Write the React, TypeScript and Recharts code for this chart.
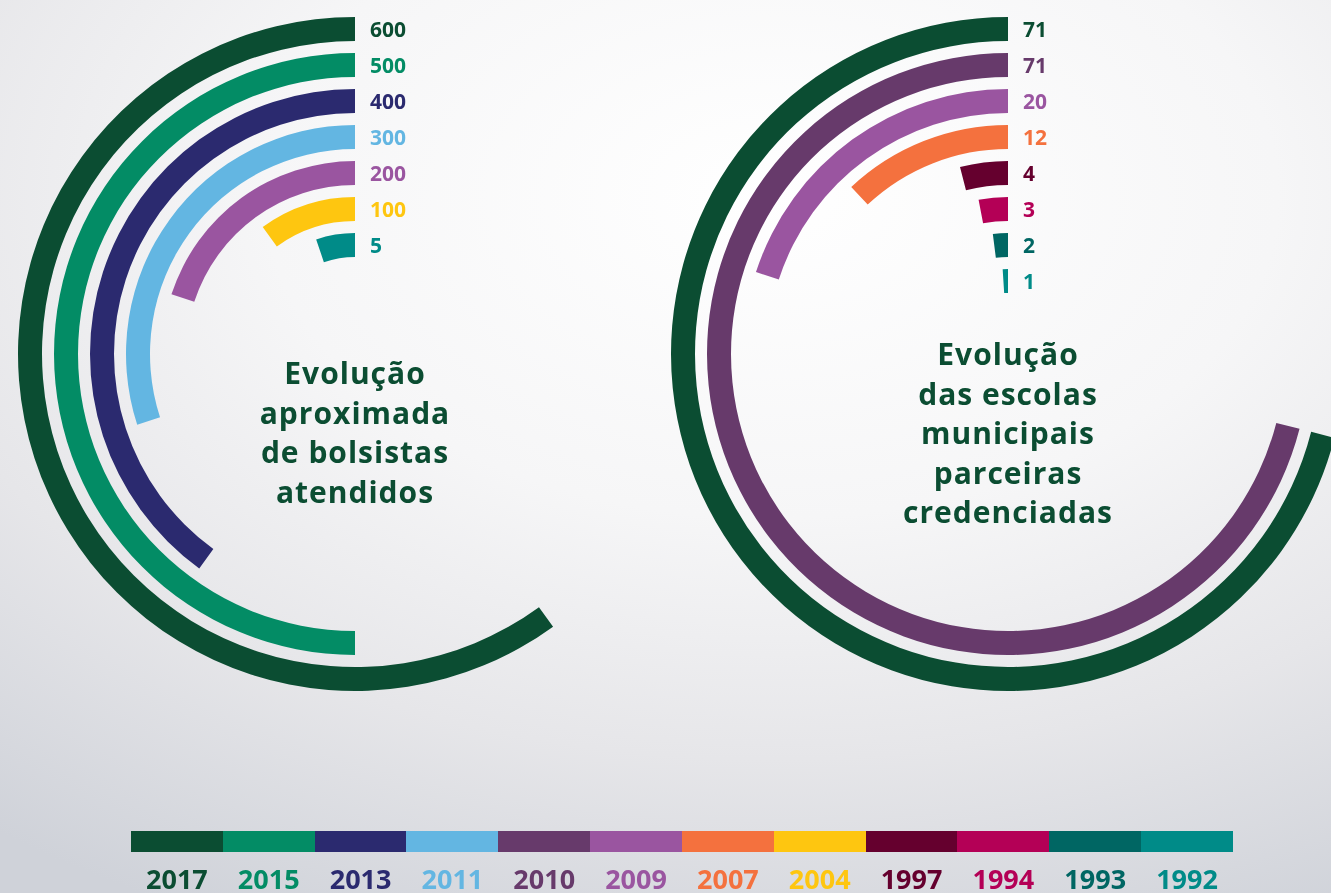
import { RadialBarChart, RadialBar, PolarAngleAxis, PolarRadiusAxis, Cell, LabelList } from "recharts";

// legenda (ano -> cor)
const anos = ["2017", "2015", "2013", "2011", "2010", "2009", "2007", "2004", "1997", "1994", "1993", "1992"];
const cores = [
  "#0b4d32", "#038c65", "#2b2a6f", "#63b6e2", "#673a6b", "#9a55a0",
  "#f4713e", "#fec610", "#65002e", "#b40056", "#006663", "#008b88",
];

// bolsistas, de dentro para fora
const bolsistasAnos = ["1992", "2004", "2009", "2011", "2013", "2015", "2017"];
const bolsistasValores = [5, 100, 200, 300, 400, 500, 600];
// na arte o arco do "5" foi desenhado maior do que a escala
const bolsistasArco = [52, 100, 200, 300, 400, 500, 600];

// escolas parceiras, de dentro para fora
const escolasAnos = ["1992", "1993", "1994", "1997", "2007", "2009", "2010", "2017"];
const escolasValores = [1, 2, 3, 4, 12, 20, 71, 71];

const FONTE = "'Open Sans', 'Noto Sans', sans-serif";
const VERDE = "#0b4d32";

const corDoAno = (ano: string) => cores[anos.indexOf(ano)];

type Item = { ano: string; arco: number; rotulo: number };

function Anel({ dados, max, inner, left, cx }: { dados: Item[]; max: number; inner: number; left: number; cx: number }) {
  const rotulo = (props: any) => {
    const vb = props.viewBox ?? {};
    const r = (vb.innerRadius + vb.outerRadius) / 2;
    const d = dados[props.index];
    return (
      <text
        x={vb.cx + 15}
        y={vb.cy - r}
        fill={corDoAno(d.ano)}
        fontSize={21}
        fontWeight={700}
        fontFamily={FONTE}
        dominantBaseline="central"
      >
        {props.value}
      </text>
    );
  };

  return (
    <div style={{ position: "absolute", left, top: 0 }}>
      <RadialBarChart
        width={720}
        height={720}
        cx={cx}
        cy={354}
        innerRadius={inner}
        outerRadius={343}
        startAngle={90}
        endAngle={450}
        data={dados}
        margin={{ top: 0, right: 0, bottom: 0, left: 0 }}
      >
        <PolarAngleAxis type="number" domain={[0, max]} tick={false} axisLine={false} />
        <PolarRadiusAxis type="category" dataKey="ano" tick={false} axisLine={false} />
        <RadialBar dataKey="arco" barSize={24} isAnimationActive={false}>
          {dados.map((d) => (
            <Cell key={d.ano} fill={corDoAno(d.ano)} />
          ))}
          <LabelList dataKey="rotulo" content={rotulo} />
        </RadialBar>
      </RadialBarChart>
    </div>
  );
}

export default function App() {
  const bolsistas = bolsistasAnos.map((ano, i) => ({ ano, arco: bolsistasArco[i], rotulo: bolsistasValores[i] }));
  const escolas = escolasAnos.map((ano, i) => ({ ano, arco: escolasValores[i], rotulo: escolasValores[i] }));

  const titulo = {
    position: "absolute" as const,
    width: 320,
    textAlign: "center" as const,
    color: VERDE,
    fontFamily: FONTE,
    fontWeight: 700,
    fontSize: 30,
    letterSpacing: 1,
    lineHeight: "39.5px",
  };

  return (
    <div
      style={{
        position: "fixed",
        left: 0,
        top: 0,
        width: 1331,
        height: 893,
        overflow: "hidden",
        background:
          "radial-gradient(ellipse 95% 90% at 58% 22%, #ffffff 0%, #f6f6f7 40%, #e6e6e9 70%, #cfd2d9 100%)",
      }}
    >
      <Anel dados={bolsistas} max={1000} inner={91} left={0} cx={355} />
      <Anel dados={escolas} max={100} inner={55} left={648} cx={360} />

      <div style={{ ...titulo, left: 355 - 160, top: 353 }}>
        Evolução
        <br />
        aproximada
        <br />
        de bolsistas
        <br />
        atendidos
      </div>
      <div style={{ ...titulo, left: 1008 - 160, top: 334 }}>
        Evolução
        <br />
        das escolas
        <br />
        municipais
        <br />
        parceiras
        <br />
        credenciadas
      </div>

      <div style={{ position: "absolute", left: 131, top: 831, display: "flex" }}>
        {anos.map((ano, i) => (
          <div key={ano} style={{ width: 91.83, height: 21, background: cores[i] }} />
        ))}
      </div>
      <div style={{ position: "absolute", left: 131, top: 865, display: "flex" }}>
        {anos.map((ano, i) => (
          <div
            key={ano}
            style={{
              width: 91.83,
              textAlign: "center",
              color: cores[i],
              fontFamily: FONTE,
              fontWeight: 700,
              fontSize: 27,
              lineHeight: "27px",
            }}
          >
            {ano}
          </div>
        ))}
      </div>
    </div>
  );
}
